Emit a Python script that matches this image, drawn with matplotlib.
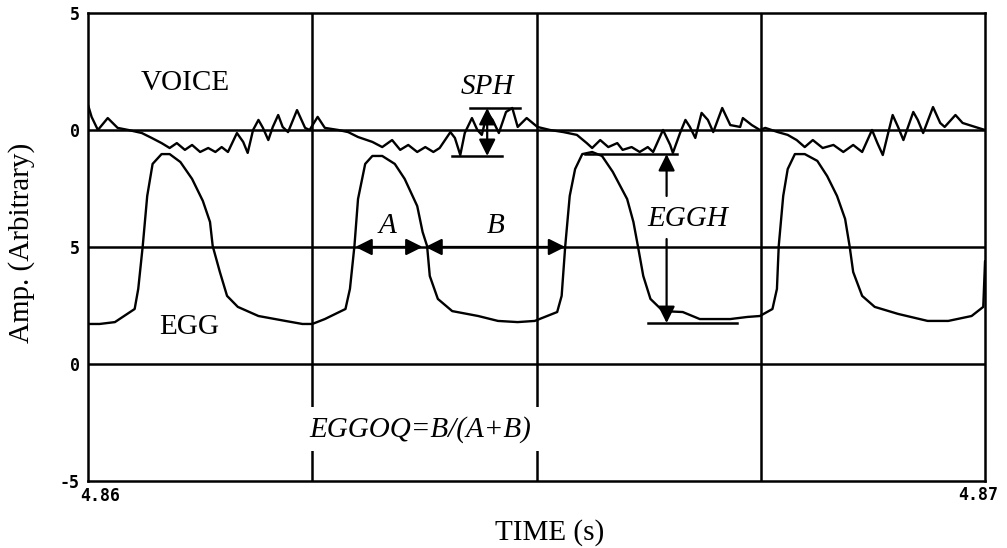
import matplotlib
matplotlib.use('Agg')
import matplotlib.pyplot as plt
import numpy as np

T0 = 4.86  # s, left edge of the window

# EGG trace: time offset (ms from T0) and amplitude
egg_ms = [0.00, 0.13, 0.30, 0.52, 0.56, 0.61, 0.66, 0.72, 0.82, 0.91, 1.03, 1.16,
          1.28, 1.36, 1.39, 1.47, 1.55, 1.67, 1.90, 2.20, 2.39, 2.50,
          2.64, 2.87, 2.92, 2.97, 3.01, 3.09, 3.17, 3.28, 3.42, 3.53, 3.67, 3.73,
          3.78, 3.81, 3.90, 4.06, 4.35, 4.57, 4.79, 4.98,
          5.23, 5.28, 5.32, 5.37, 5.43, 5.51, 5.62, 5.73, 5.85, 6.01, 6.08, 6.13,
          6.19, 6.27, 6.41, 6.63, 6.82, 7.16, 7.35, 7.49,
          7.63, 7.68, 7.70, 7.75, 7.80, 7.88, 7.99, 8.13, 8.24, 8.35, 8.44, 8.49,
          8.53, 8.63, 8.77, 9.03, 9.36, 9.59, 9.85, 9.98, 10.00]
egg_amp = [1.71, 1.71, 1.79, 2.35, 3.21, 5.04, 7.18, 8.55, 8.97, 8.97, 8.63, 7.91,
           6.97, 6.07, 5.04, 3.93, 2.91, 2.44, 2.05, 1.84, 1.71, 1.71,
           1.92, 2.35, 3.21, 5.04, 7.05, 8.55, 8.89, 8.89, 8.55, 7.91, 6.75, 5.64,
           5.04, 3.76, 2.78, 2.26, 2.05, 1.84, 1.79, 1.84,
           2.22, 2.91, 5.04, 7.18, 8.33, 8.97, 9.06, 8.89, 8.21, 7.05, 6.07, 5.04,
           3.76, 2.78, 2.26, 2.22, 1.92, 1.92, 2.01, 2.05,
           2.35, 3.21, 5.04, 7.18, 8.33, 8.97, 8.97, 8.68, 8.03, 7.18, 6.20, 5.04,
           3.93, 2.91, 2.44, 2.14, 1.84, 1.84, 2.05, 2.44, 4.40]

# Voice trace: time offset (ms from T0) and amplitude
voice_ms = [0.00, 0.04, 0.11, 0.22, 0.33, 0.45, 0.60, 0.71, 0.82, 0.91, 0.99, 1.08,
            1.16, 1.25, 1.34, 1.42, 1.49, 1.56, 1.66, 1.73, 1.78, 1.84, 1.90, 1.95,
            2.01, 2.06, 2.12, 2.17, 2.23, 2.33, 2.42, 2.47, 2.56, 2.64, 2.79, 2.90,
            3.01, 3.17, 3.28, 3.39, 3.48, 3.57, 3.67, 3.76, 3.85, 3.92, 4.04, 4.09,
            4.15, 4.20, 4.28, 4.34, 4.39, 4.45, 4.51, 4.58, 4.66, 4.73, 4.79, 4.89,
            5.01, 5.15, 5.30, 5.45, 5.56, 5.62, 5.71, 5.80, 5.90, 5.96, 6.06, 6.15,
            6.24, 6.30, 6.41, 6.49, 6.52, 6.60, 6.66, 6.71, 6.77, 6.84, 6.91, 6.97,
            7.07, 7.16, 7.27, 7.30, 7.40, 7.49, 7.55, 7.69, 7.80, 7.90, 7.99, 8.08,
            8.19, 8.31, 8.42, 8.53, 8.63, 8.74, 8.80, 8.86, 8.92, 8.97, 9.03, 9.09,
            9.20, 9.25, 9.31, 9.42, 9.50, 9.55, 9.67, 9.75, 9.89, 10.00]
voice_amp = [1.07, 0.56, 0.00, 0.51, 0.09, 0.00, -0.13, -0.34, -0.56, -0.77, -0.56, -0.85,
             -0.64, -0.94, -0.77, -0.94, -0.73, -0.94, -0.13, -0.51, -0.98, 0.00, 0.43, 0.09,
             -0.43, 0.13, 0.64, 0.13, -0.09, 0.85, 0.09, 0.00, 0.56, 0.09, 0.00, -0.09,
             -0.30, -0.51, -0.73, -0.43, -0.85, -0.64, -0.94, -0.73, -0.94, -0.77, -0.09, -0.34,
             -1.07, -0.13, 0.51, 0.00, -0.21, 0.73, 0.43, -0.13, 0.77, 0.94, 0.13, 0.51,
             0.13, 0.00, -0.09, -0.21, -0.56, -0.77, -0.43, -0.73, -0.56, -0.85, -0.73, -0.94,
             -0.73, -0.94, 0.00, -0.64, -0.98, -0.13, 0.43, 0.13, -0.34, 0.73, 0.43, -0.09,
             0.94, 0.21, 0.13, 0.51, 0.21, 0.00, 0.09, -0.09, -0.21, -0.43, -0.73, -0.43,
             -0.77, -0.64, -0.94, -0.64, -0.94, 0.00, -0.56, -1.07, -0.13, 0.64, 0.13, -0.43,
             0.77, 0.43, -0.13, 0.98, 0.30, 0.13, 0.64, 0.30, 0.13, 0.00]

ytick_vals = [-5, 0, 5, 10, 15]
ytick_labels = ['-5', '0', '5', '0', '5']
xtick_vals = [4.86, 4.87]
xtick_labels = ['4.86', '4.87']
xgrid_vals = [4.8625, 4.865, 4.8675]
VOICE_OFFSET = 10  # voice channel sits above the EGG channel

SERIF = 'Liberation Serif'
MONO = 'DejaVu Sans Mono'
FS = 21


def sec(ms):
    return T0 + np.asarray(ms) / 1000.0


fig = plt.figure(figsize=(10.07, 5.48), dpi=100)
ax = fig.add_axes([0.0874, 0.1223, 0.8908, 0.854])
ax.set_xlim(4.86, 4.87)
ax.set_ylim(-5, 15)

for s in ax.spines.values():
    s.set_linewidth(1.8)
for yv in [0, 5, 10]:
    ax.axhline(yv, color='k', lw=1.8, zorder=1)
for xv in xgrid_vals:
    ax.axvline(xv, color='k', lw=1.8, zorder=1)

ax.plot(sec(egg_ms), egg_amp, color='k', lw=1.7, zorder=3,
        solid_joinstyle='round', solid_capstyle='round')
ax.plot(sec(voice_ms), np.array(voice_amp) + VOICE_OFFSET, color='k', lw=1.7, zorder=3,
        solid_joinstyle='round', solid_capstyle='round')

ax.set_yticks(ytick_vals)
ax.set_yticklabels(ytick_labels, fontfamily=MONO, fontweight='bold', fontsize=12)
ax.tick_params(axis='y', length=0, pad=6)
ax.set_xticks([])

# x labels sit slightly off the tick positions, like the original
ax.annotate(xtick_labels[0], xy=(xtick_vals[0], 0), xycoords=('data', 'axes fraction'),
            xytext=(9, -11), textcoords='offset points', ha='center', va='center',
            fontfamily=MONO, fontweight='bold', fontsize=12)
ax.annotate(xtick_labels[1], xy=(xtick_vals[1], 0), xycoords=('data', 'axes fraction'),
            xytext=(-5, -10), textcoords='offset points', ha='center', va='center',
            fontfamily=MONO, fontweight='bold', fontsize=12)

fig.text(22 / 1007, 1 - 243 / 548, 'Amp. (Arbitrary)', rotation=90, ha='center', va='center',
         fontfamily=SERIF, fontsize=FS)
fig.text(550 / 1007, 1 - 533 / 548, 'TIME (s)', ha='center', va='center',
         fontfamily=SERIF, fontsize=FS)

ax.text(sec(1.08), 2.0 + VOICE_OFFSET, 'VOICE', ha='center', va='center', fontfamily=SERIF, fontsize=FS)
ax.text(sec(1.13), 1.58, 'EGG', ha='center', va='center', fontfamily=SERIF, fontsize=FS)

arrow_kw = dict(color='k', lw=1.6, shrinkA=0, shrinkB=0, mutation_scale=25)

# SPH: peak-to-peak of the voice
ax.plot(sec([4.26, 4.82]), [0.94 + VOICE_OFFSET] * 2, color='k', lw=1.8, zorder=4)
ax.plot(sec([4.06, 4.62]), [-1.11 + VOICE_OFFSET] * 2, color='k', lw=1.8, zorder=4)
ax.annotate('', xy=(sec(4.45), 0.94 + VOICE_OFFSET), xytext=(sec(4.45), -1.11 + VOICE_OFFSET),
            arrowprops=dict(arrowstyle='<|-|>', **arrow_kw), zorder=4)
ax.text(sec(4.45), 1.84 + VOICE_OFFSET, 'SPH', ha='center', va='center', fontfamily=SERIF,
        fontstyle='italic', fontsize=FS)

# A and B along the EGG 5 line
ax.annotate('', xy=(sec(3.73), 5), xytext=(sec(2.98), 5),
            arrowprops=dict(arrowstyle='<|-|>', **arrow_kw), zorder=4)
ax.annotate('', xy=(sec(5.32), 5), xytext=(sec(3.76), 5),
            arrowprops=dict(arrowstyle='<|-|>', **arrow_kw), zorder=4)
ax.text(sec(3.34), 5.9, 'A', ha='center', va='center', fontfamily=SERIF, fontstyle='italic', fontsize=FS)
ax.text(sec(4.54), 5.9, 'B', ha='center', va='center', fontfamily=SERIF, fontstyle='italic', fontsize=FS)

# EGGH: peak-to-trough of the EGG
ax.plot(sec([5.54, 6.57]), [8.97, 8.97], color='k', lw=1.8, zorder=4)
ax.plot(sec([6.24, 7.24]), [1.75, 1.75], color='k', lw=1.8, zorder=4)
ax.annotate('', xy=(sec(6.45), 8.97), xytext=(sec(6.45), 7.18),
            arrowprops=dict(arrowstyle='-|>', **arrow_kw), zorder=4)
ax.annotate('', xy=(sec(6.45), 1.75), xytext=(sec(6.45), 5.34),
            arrowprops=dict(arrowstyle='-|>', **arrow_kw), zorder=4)
ax.text(sec(6.68), 6.2, 'EGGH', ha='center', va='center', fontfamily=SERIF, fontstyle='italic', fontsize=FS)

ax.text(sec(3.70), -2.78, 'EGGOQ=B/(A+B)', ha='center', va='center', fontfamily=SERIF,
        fontstyle='italic', fontsize=FS, zorder=5,
        bbox=dict(boxstyle='square,pad=0.3', facecolor='white', edgecolor='none'))

fig.savefig('out.png', dpi=100)
